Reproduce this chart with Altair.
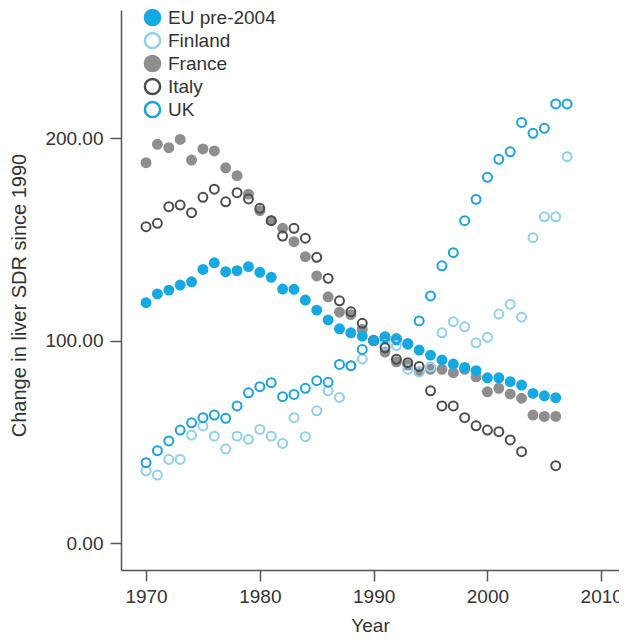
import altair as alt
import pandas as pd

years = list(range(1970, 2008))
series_names = ["EU pre-2004", "Finland", "France", "Italy", "UK"]

eu = [118.7, 123.0, 124.9, 127.4, 129.0, 135.1, 138.4, 134.0, 134.5, 136.5,
      133.7, 131.2, 125.4, 125.3, 120.0, 115.0, 110.2, 105.8, 103.8, 102.2,
      100.0, 101.0, 100.2, 98.2, 95.3, 92.8, 90.4, 88.4, 86.7, 85.1,
      81.6, 81.6, 79.7, 78.0, 73.9, 72.7, 71.8, None]
finland = [35.7, 33.6, 41.3, 41.3, 53.3, 57.8, 52.8, 46.4, 52.8, 51.2,
           56.1, 52.8, 49.2, 61.9, 52.5, 65.3, 75.2, 71.9, 87.5, 90.9,
           100.0, 98.0, 97.5, 85.8, 84.5, 87.0, 103.8, 109.3, 106.8, 98.9,
           101.6, 113.1, 117.9, 111.5, 150.8, 161.1, 161.1, 190.8]
france = [187.8, 196.9, 195.2, 199.3, 189.1, 194.6, 193.6, 185.3, 181.4, 172.3,
          164.1, 159.2, 155.4, 148.8, 141.4, 131.9, 121.6, 114.0, 112.8, 105.5,
          100.0, 94.3, 89.5, 87.9, 84.6, 85.8, 85.8, 84.1, 85.8, 82.1,
          74.7, 76.4, 73.6, 71.5, 63.2, 62.5, 62.5, None]
italy = [156.2, 157.9, 166.1, 166.9, 163.1, 170.7, 174.7, 168.5, 173.0, 169.9,
         165.3, 159.2, 151.6, 155.4, 150.5, 141.1, 130.7, 119.6, 114.2, 108.5,
         100.0, 96.4, 90.8, 89.1, 87.2, 75.2, 67.7, 67.7, 61.9, 57.9,
         55.8, 55.0, 50.9, 45.1, None, None, 38.2, None]
uk = [39.7, 45.6, 50.4, 55.8, 59.4, 61.9, 63.2, 61.6, 67.7, 74.2,
      77.2, 79.2, 72.3, 73.4, 76.4, 80.2, 79.4, 88.2, 87.6, 95.6,
      100.0, 101.9, 101.0, 98.5, 109.7, 122.0, 136.9, 143.4, 159.2, 169.7,
      180.6, 189.5, 193.2, 207.7, 202.3, 204.8, 216.8, 216.8]

x_ticks = [1970, 1980, 1990, 2000, 2010]
y_ticks = [0, 100, 200]

fills = ["#14a9e2", "rgba(0,0,0,0)", "#8e8e8e", "rgba(0,0,0,0)", "rgba(0,0,0,0)"]
strokes = ["#14a9e2", "#8fd0ee", "#8e8e8e", "#4d4d4d", "#1ba3da"]
z_order = {"France": 0, "EU pre-2004": 1, "Finland": 2, "Italy": 3, "UK": 4}

rows = []
for name, vals in zip(series_names, [eu, finland, france, italy, uk]):
    for yr, v in zip(years, vals):
        if v is not None:
            rows.append({"Year": yr, "value": v, "series": name, "z": z_order[name]})
df = pd.DataFrame(rows)

FONT = "Liberation Sans"
TXT = "#333333"

legend = alt.Legend(
    title=None, orient="none", legendX=22, legendY=-2,
    symbolSize=230, symbolStrokeWidth=2.5, labelFontSize=19, labelFont=FONT,
    labelColor=TXT, rowPadding=-5, labelOffset=6, symbolType="circle",
)

chart = alt.Chart(df).mark_point(filled=False, size=80, strokeWidth=2, opacity=1).encode(
    x=alt.X("Year:Q", scale=alt.Scale(domain=[1967.8, 2011.56], nice=False, zero=False),
            axis=alt.Axis(values=x_ticks, format="d", title="Year", grid=False,
                          tickSize=11, labelPadding=6, titlePadding=10)),
    y=alt.Y("value:Q", scale=alt.Scale(domain=[-13.3, 263.2], nice=False, zero=False),
            axis=alt.Axis(values=y_ticks, format=".2f", title="Change in liver SDR since 1990",
                          grid=False, tickSize=11, labelPadding=7, titleX=-92, titleY=285,
                          titleFontSize=20)),
    fill=alt.Fill("series:N", scale=alt.Scale(domain=series_names, range=fills), legend=legend),
    stroke=alt.Stroke("series:N", scale=alt.Scale(domain=series_names, range=strokes), legend=legend),
    order=alt.Order("z:Q"),
).properties(
    width=498, height=560,
    autosize=alt.AutoSizeParams(type="none"),
    padding={"left": 113, "top": 2, "right": 0, "bottom": 69},
).configure_view(stroke=None).configure_axis(
    domainColor="#555555", tickColor="#555555", domainWidth=1.5, tickWidth=1.5,
    labelFont=FONT, titleFont=FONT, labelFontSize=19, titleFontSize=19,
    labelColor=TXT, titleColor=TXT, titleFontWeight="normal",
)

chart.save("out.html", embed_options={"renderer": "svg", "actions": False})
